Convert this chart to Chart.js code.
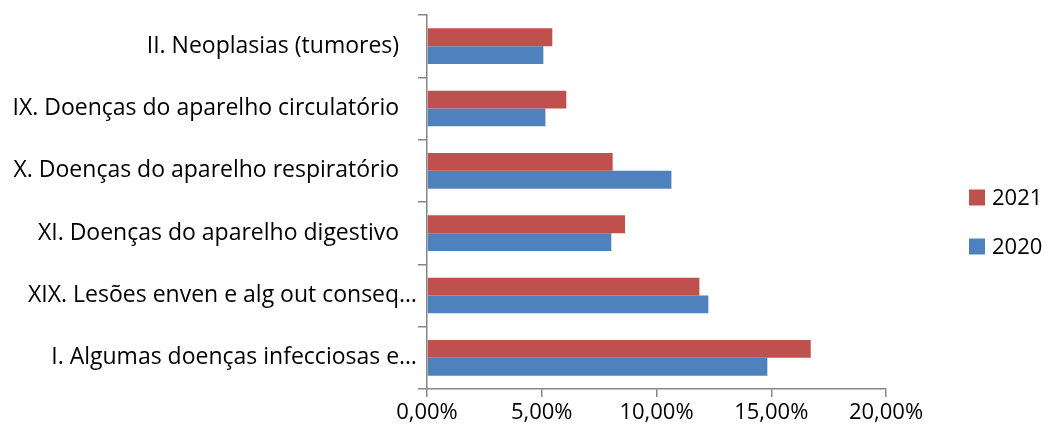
<!DOCTYPE html>
<html>
<head>
<meta charset="utf-8">
<script src="https://cdn.jsdelivr.net/npm/chart.js@4/dist/chart.umd.min.js"></script>
<style>
  html, body { margin: 0; padding: 0; background: #fff; }
  #wrap { width: 1046px; height: 435px; }
</style>
</head>
<body>
<div id="wrap"><canvas id="grafico"></canvas></div>
<script>
// capitulos CID (trailing spaces keep Excel's right gap before the axis)
const capitulos = [
  'II. Neoplasias (tumores)   ',
  'IX. Doenças do aparelho circulatório   ',
  'X. Doenças do aparelho respiratório   ',
  'XI. Doenças do aparelho digestivo   ',
  'XIX. Lesões enven e alg out conseq…',
  'I. Algumas doenças infecciosas e…'
];
const anos = ['2021', '2020'];
const valores2021 = [5.46, 6.07, 8.09, 8.63, 11.87, 16.72];
const valores2020 = [5.07, 5.16, 10.65, 8.03, 12.26, 14.83];
const cores = ['#C0504D', '#4F81BD'];
const eixoMax = 20;
const eixoPasso = 5;

const fonte = '"Open Sans", Lato, sans-serif';
const cinza = '#868686';

// legenda desenhada a direita, estilo Excel
const legendaExcel = {
  id: 'legendaExcel',
  afterDraw(chart) {
    const ctx = chart.ctx;
    const x = chart.chartArea.right + 83;
    const meio = chart.height / 2;
    ctx.save();
    ctx.font = '22px ' + fonte;
    ctx.textBaseline = 'middle';
    chart.data.datasets.forEach((ds, i) => {
      const y = meio - 20 + i * 49;
      ctx.fillStyle = ds.backgroundColor;
      ctx.fillRect(x, y - 8, 16, 16);
      ctx.fillStyle = '#000';
      ctx.fillText(ds.label, x + 23, y + 1);
    });
    ctx.restore();
  }
};

new Chart(document.getElementById('grafico'), {
  type: 'bar',
  data: {
    labels: capitulos,
    datasets: [
      { label: anos[0], data: valores2021, backgroundColor: cores[0] },
      { label: anos[1], data: valores2020, backgroundColor: cores[1] }
    ]
  },
  options: {
    indexAxis: 'y',
    responsive: true,
    maintainAspectRatio: false,
    animation: false,
    datasets: {
      bar: { categoryPercentage: 0.571, barPercentage: 1 }
    },
    layout: { padding: { top: 15, right: 160, left: 0, bottom: 0 } },
    scales: {
      x: {
        min: 0,
        max: eixoMax,
        afterFit: scale => { scale.height = 46; },
        ticks: {
          stepSize: eixoPasso,
          color: '#000',
          padding: 3,
          font: { family: fonte, size: 22 },
          callback: v => v.toFixed(2).replace('.', ',') + '%'
        },
        grid: { drawOnChartArea: false, tickLength: 8, color: cinza, lineWidth: 1.5 },
        border: { color: cinza, width: 1.5 }
      },
      y: {
        afterFit: scale => { scale.width = 427; },
        ticks: {
          color: '#000',
          padding: 1,
          font: { family: fonte, size: 23 }
        },
        grid: { offset: true, drawOnChartArea: false, tickLength: 9, color: cinza, lineWidth: 1.5 },
        border: { color: cinza, width: 1.5 }
      }
    },
    plugins: {
      legend: { display: false },
      tooltip: { enabled: false }
    }
  },
  plugins: [legendaExcel]
});
</script>
</body>
</html>
